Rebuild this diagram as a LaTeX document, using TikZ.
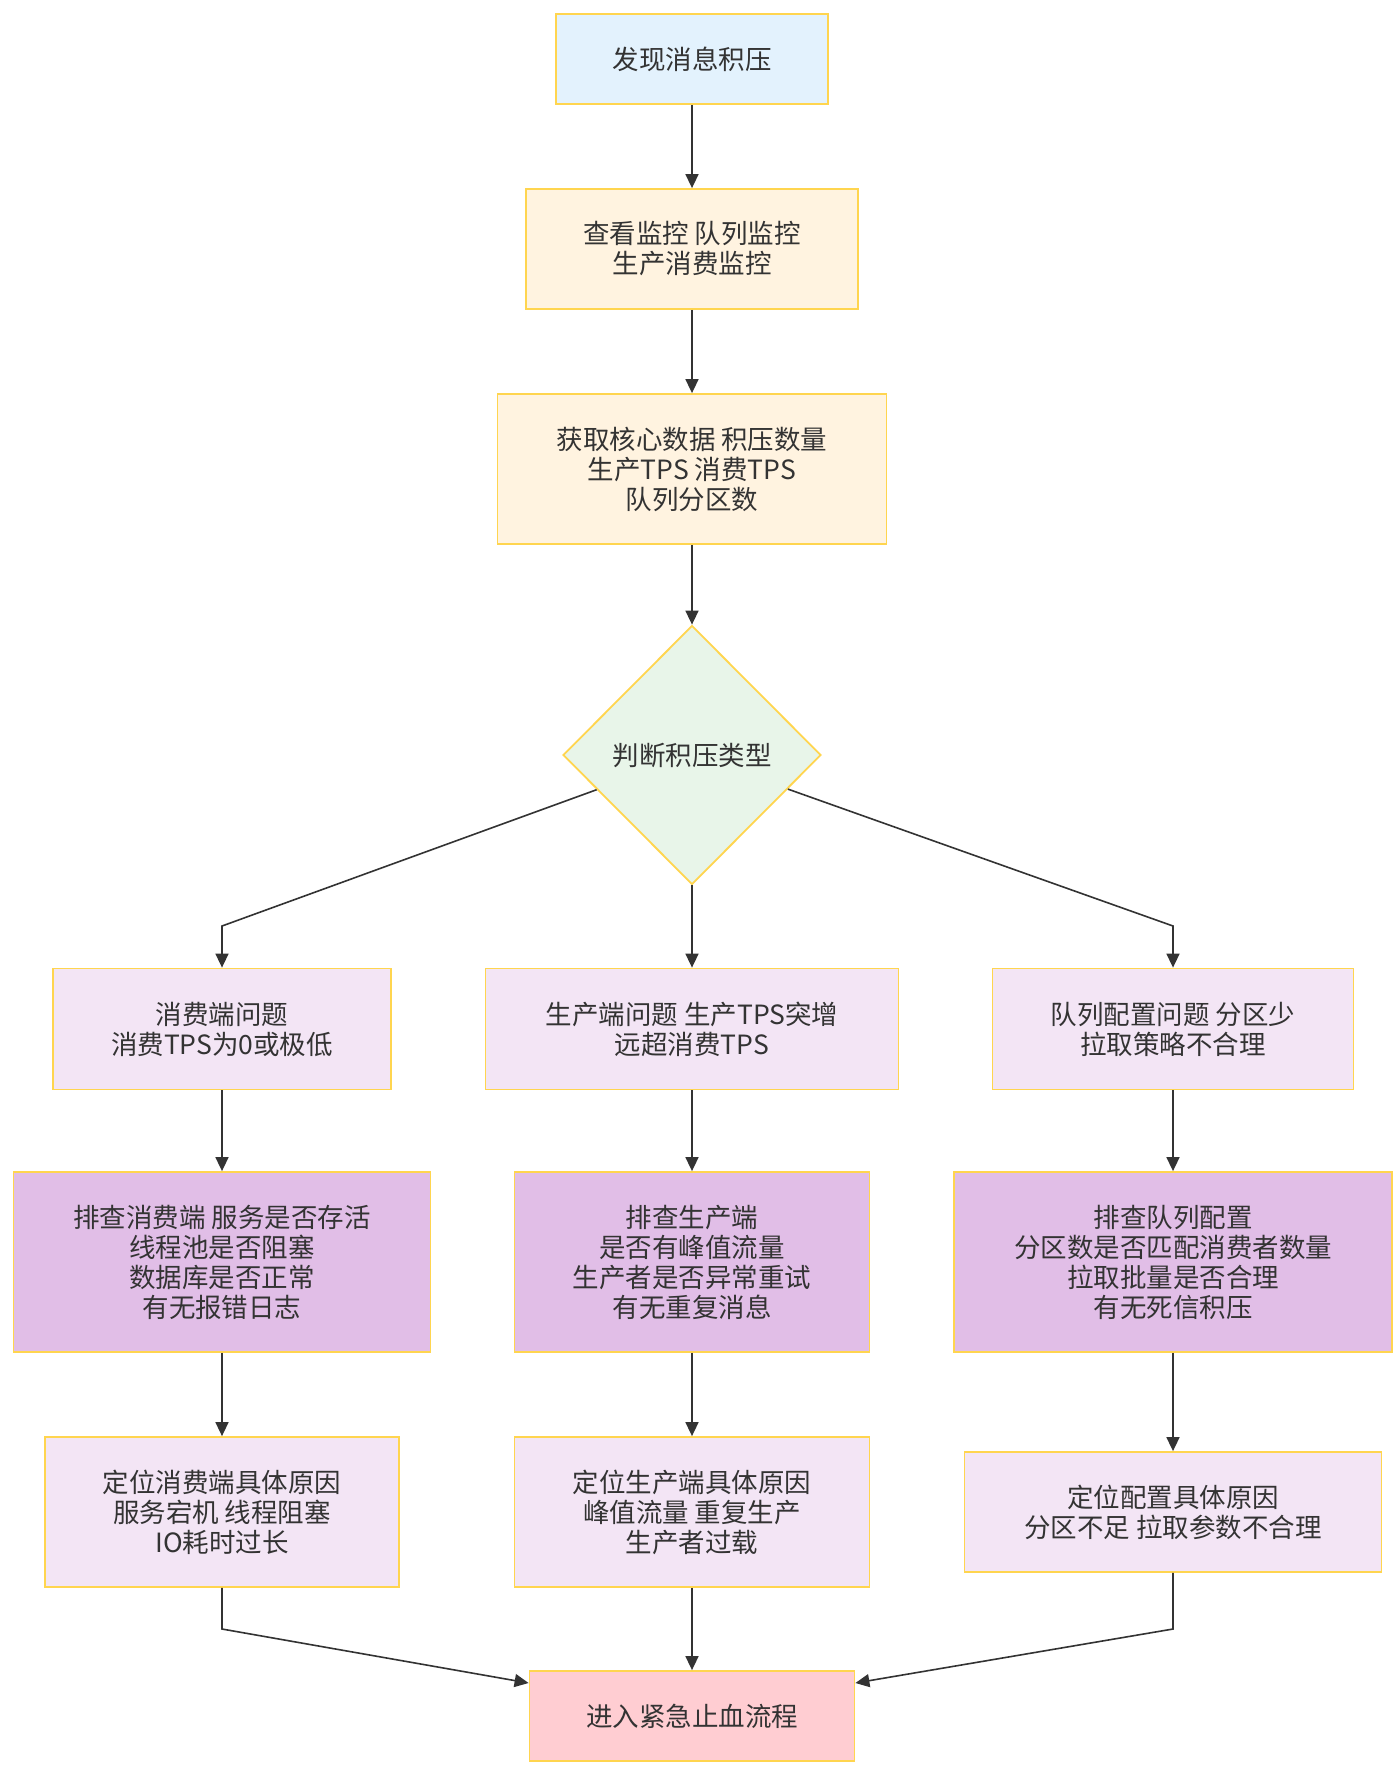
\documentclass[tikz,border=0pt]{standalone}
\usepackage{fontspec}
\setmainfont{Noto Sans CJK SC}
\usetikzlibrary{shapes.geometric,arrows.meta}
\definecolor{rand}{HTML}{FFD54F}
\definecolor{linie}{HTML}{333333}
\definecolor{blau}{HTML}{E3F2FD}
\definecolor{orange}{HTML}{FFF3E0}
\definecolor{gruen}{HTML}{E8F5E9}
\definecolor{lila}{HTML}{F3E5F5}
\definecolor{violett}{HTML}{E1BEE7}
\definecolor{rosa}{HTML}{FFCDD2}
\tikzset{
    kasten/.style={draw=rand, line width=1.8pt, align=center, inner sep=0pt,
        font=\fontsize{26.5}{30}\selectfont, text=linie},
    raute/.style={kasten, diamond, fill=gruen, minimum width=258pt, minimum height=259pt},
    pfeil/.style={draw=linie, line width=1.6pt, -{Triangle[length=14pt,width=13pt]}}
}
\begin{document}
\begin{tikzpicture}[x=1pt,y=-1pt]
        \useasboundingbox[fill=white] (0,0) rectangle (1400,1773);
        % Start und Datenerfassung
        \node[kasten, fill=blau, minimum width=272pt, minimum height=90pt] (start) at (692,59) {发现消息积压};
        \node[kasten, fill=orange, minimum width=332pt, minimum height=120pt] (monitor) at (692,249) {查看监控 队列监控\\生产消费监控};
        \node[kasten, fill=orange, minimum width=389pt, minimum height=150pt] (daten) at (692,469) {获取核心数据 积压数量\\生产TPS 消费TPS\\队列分区数};
        % Entscheidung
        \node[raute] (typ) at (692,755) {判断积压类型};
        % Problemarten
        \node[kasten, fill=lila, minimum width=338pt, minimum height=121pt] (konsument) at (222,1029) {消费端问题\\消费TPS为0或极低};
        \node[kasten, fill=lila, minimum width=413pt, minimum height=121pt] (produzent) at (692,1029) {生产端问题 生产TPS突增\\远超消费TPS};
        \node[kasten, fill=lila, minimum width=361pt, minimum height=121pt] (queue) at (1173,1029) {队列配置问题 分区少\\拉取策略不合理};
        % Pruefen
        \node[kasten, fill=violett, minimum width=417pt, minimum height=180pt] (pruefK) at (222,1262) {排查消费端 服务是否存活\\线程池是否阻塞\\数据库是否正常\\有无报错日志};
        \node[kasten, fill=violett, minimum width=355pt, minimum height=180pt] (pruefP) at (692,1262) {排查生产端\\是否有峰值流量\\生产者是否异常重试\\有无重复消息};
        \node[kasten, fill=violett, minimum width=438pt, minimum height=180pt] (pruefQ) at (1173,1262) {排查队列配置\\分区数是否匹配消费者数量\\拉取批量是否合理\\有无死信积压};
        % Ursachen
        \node[kasten, fill=lila, minimum width=354pt, minimum height=150pt] (ursK) at (222,1512) {定位消费端具体原因\\服务宕机 线程阻塞\\IO耗时过长};
        \node[kasten, fill=lila, minimum width=355pt, minimum height=150pt] (ursP) at (692,1512) {定位生产端具体原因\\峰值流量 重复生产\\生产者过载};
        \node[kasten, fill=lila, minimum width=417pt, minimum height=120pt] (ursQ) at (1173,1512) {定位配置具体原因\\分区不足 拉取参数不合理};
        % Ende
        \node[kasten, fill=rosa, minimum width=325pt, minimum height=90pt] (notfall) at (692,1716) {进入紧急止血流程};
        % Knickpunkte
        \coordinate (knickL) at (222,926);
        \coordinate (knickR) at (1173,926);
        \coordinate (knickUL) at (222,1629);
        \coordinate (knickUR) at (1173,1629);
        % Verbindungen
        \draw[pfeil] (start) -- (monitor);
        \draw[pfeil] (monitor) -- (daten);
        \draw[pfeil] (daten) -- (typ);
        \draw[pfeil] (typ) -- (knickL) -- (konsument);
        \draw[pfeil] (typ) -- (produzent);
        \draw[pfeil] (typ) -- (knickR) -- (queue);
        \draw[pfeil] (konsument) -- (pruefK);
        \draw[pfeil] (produzent) -- (pruefP);
        \draw[pfeil] (queue) -- (pruefQ);
        \draw[pfeil] (pruefK) -- (ursK);
        \draw[pfeil] (pruefP) -- (ursP);
        \draw[pfeil] (pruefQ) -- (ursQ);
        \draw[pfeil] (ursK) -- (knickUL) -- ([yshift=33pt]notfall.west);
        \draw[pfeil] (ursP) -- (notfall);
        \draw[pfeil] (ursQ) -- (knickUR) -- ([yshift=33pt]notfall.east);
    \end{tikzpicture}
\end{document}
